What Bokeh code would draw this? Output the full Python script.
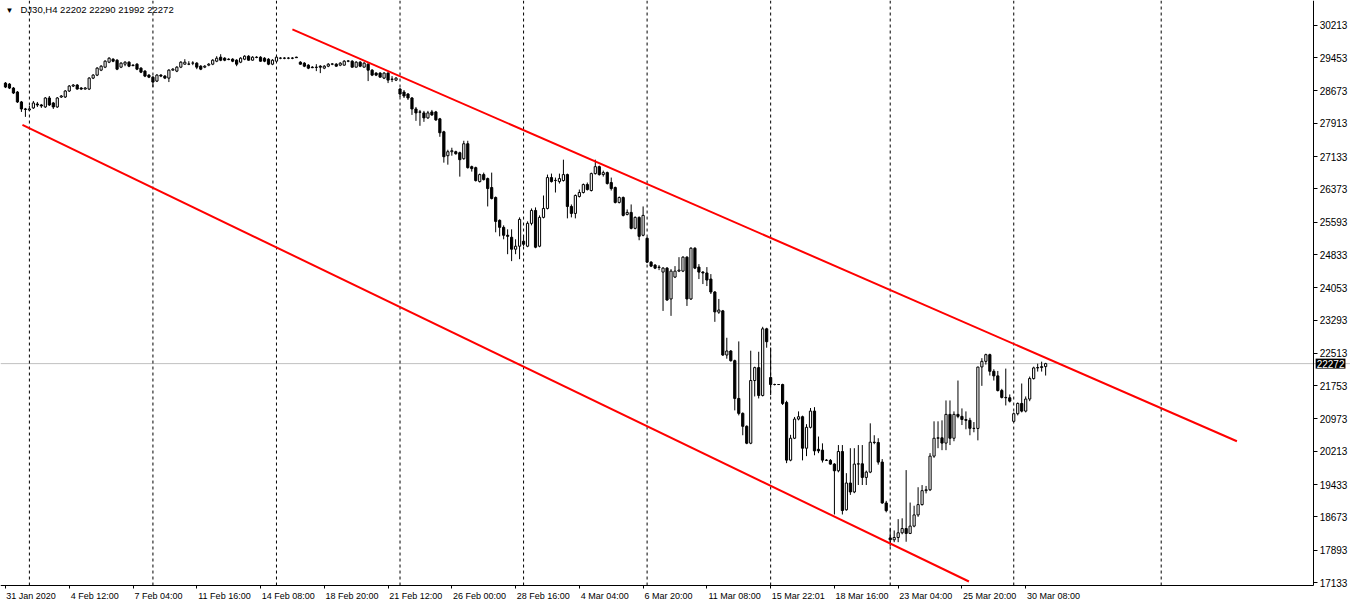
from bokeh.plotting import figure
from bokeh.models import FixedTicker, Label, Range1d, ColumnDataSource, Span, LinearAxis
from bokeh.embed import file_html
from bokeh.resources import INLINE

symbol = "DJ30,H4"
last_ohlc = [22202, 22290, 21992, 22272]
bid = 22272

opens = [
    28858, 28835, 28741, 28648, 28415, 28251, 28228, 28275, 28368, 28345,
    28298, 28508, 28391, 28298, 28531, 28531, 28672, 28788, 28812, 28742,
    28718, 28718, 28975, 29045, 29162, 29232, 29349, 29419, 29396, 29232,
    29302, 29349, 29279, 29302, 29209, 29139, 29045, 28998, 28905, 29045,
    29022, 28975, 29162, 29139, 29232, 29302, 29302, 29326, 29326, 29255,
    29232, 29279, 29302, 29372, 29466, 29442, 29419, 29419, 29396, 29349,
    29419, 29489, 29396, 29466, 29466, 29442, 29419, 29302, 29372, 29442,
    29445, 29442, 29445, 29466, 29349, 29326, 29279, 29232, 29225, 29255,
    29209, 29255, 29302, 29302, 29279, 29279, 29372, 29372, 29232, 29349,
    29232, 29302, 29162, 29092, 29092, 28975, 29092, 28952, 28928, 28718,
    28648, 28601, 28508, 28251, 28181, 28158, 28041, 28181, 28181, 28018,
    27714, 27153, 27247, 27247, 27223, 27083, 27434, 26896, 26873, 26546,
    26710, 26616, 26406, 26172, 25635, 25471, 25285, 25238, 24958, 25028,
    25145, 25028, 25565, 25868, 25028, 25705, 25915, 26640, 26570, 26546,
    26570, 26710, 25962, 25798, 26196, 26289, 26476, 26336, 26733, 26896,
    26710, 26756, 26523, 26406, 26056, 26172, 25775, 25822, 25448, 25705,
    25285, 25215, 24654, 24584, 24538, 24421, 24514, 23790, 24304, 24444,
    24444, 24771, 23790, 24981, 24538, 24421, 24400, 24257, 23953, 23480,
    23510, 22474, 22568, 22341, 21454, 21104, 20800, 20403, 21875, 22178,
    21524, 23089, 21945, 21781, 21781, 21781, 21360, 20006, 20520, 20970,
    21025, 20286, 20776, 21158, 20260, 20240, 20006, 20000, 19913, 19756,
    20208, 18840, 19469, 19259, 19913, 19920, 19600, 19725, 20427, 20420,
    19960, 19000, 18180, 18135, 18190, 18300, 18400, 18285, 18457, 18720,
    18962, 19290, 19310, 20100, 20520, 20530, 20406, 21080, 20520, 21080,
    21034, 20960, 20940, 20753, 20750, 22194, 22325, 22482, 22092, 21984,
    21640, 21478, 21470, 20917, 21096, 21337, 21157, 21440, 21921, 22171,
    22180, 22202,
]

highs = [
    28882, 28858, 28765, 28672, 28438, 28275, 28321, 28438, 28415, 28368,
    28531, 28555, 28415, 28531, 28578, 28695, 28812, 28835, 28835, 28765,
    28765, 28998, 29069, 29232, 29279, 29396, 29466, 29442, 29419, 29349,
    29372, 29372, 29302, 29326, 29232, 29162, 29069, 29022, 29069, 29069,
    29045, 29185, 29209, 29255, 29372, 29419, 29372, 29372, 29349, 29279,
    29279, 29326, 29419, 29489, 29536, 29466, 29442, 29442, 29419, 29466,
    29512, 29512, 29489, 29489, 29489, 29466, 29442, 29419, 29489, 29466,
    29466, 29466, 29466, 29478, 29372, 29349, 29302, 29255, 29302, 29279,
    29279, 29326, 29326, 29326, 29349, 29396, 29396, 29396, 29372, 29372,
    29349, 29326, 29185, 29115, 29115, 29115, 29115, 29022, 28998, 28742,
    28695, 28625, 28531, 28298, 28228, 28205, 28205, 28228, 28205, 28041,
    27738, 27293, 27340, 27270, 27247, 27504, 27504, 26920, 26896, 26733,
    26756, 26640, 26756, 26196, 25658, 25518, 25425, 25425, 25191, 25705,
    25285, 25611, 25915, 25939, 25752, 26219, 26710, 26733, 26640, 26733,
    27060, 26733, 26009, 26243, 26359, 26500, 26523, 26756, 27060, 26920,
    26803, 26780, 26640, 26429, 26196, 26196, 25892, 26009, 25728, 25728,
    25962, 25238, 24678, 24608, 24584, 24538, 24538, 24491, 24561, 24771,
    24794, 24794, 25005, 25005, 24608, 24444, 24538, 24374, 23976, 23790,
    23532, 22879, 22591, 22365, 22793, 21127, 20823, 22575, 22200, 22550,
    23136, 23113, 22650, 21800, 21790, 21800, 21400, 20600, 21020, 21150,
    21050, 20850, 21230, 21250, 20560, 20400, 20030, 20030, 19935, 20360,
    20360, 19700, 20286, 20286, 20360, 20360, 19760, 20870, 20590, 20520,
    20030, 19050, 18418, 18355, 18620, 18640, 19772, 19010, 18935, 19370,
    19420, 19400, 20170, 20917, 20917, 20940, 21407, 21407, 21150, 21875,
    21220, 21150, 21000, 20900, 22200, 22400, 22505, 22505, 22140, 22100,
    21680, 22155, 21548, 21127, 21360, 21805, 21501, 21968, 22201, 22270,
    22318, 22290,
]

lows = [
    28741, 28718, 28601, 28391, 28181, 28065, 28205, 28251, 28298, 28275,
    28275, 28321, 28251, 28275, 28508, 28508, 28648, 28765, 28705, 28695,
    28705, 28695, 28952, 29022, 29139, 29209, 29326, 29349, 29162, 29209,
    29255, 29232, 29255, 29162, 29092, 28998, 28975, 28765, 28882, 28998,
    28952, 28882, 29150, 29115, 29209, 29290, 29279, 29279, 29185, 29162,
    29209, 29255, 29279, 29349, 29372, 29372, 29396, 29349, 29255, 29326,
    29396, 29385, 29385, 29442, 29360, 29349, 29279, 29279, 29349, 29419,
    29419, 29419, 29419, 29450, 29290, 29232, 29185, 29209, 29139, 29092,
    29185, 29232, 29279, 29245, 29255, 29270, 29349, 29225, 29225, 29232,
    29225, 28905, 29022, 29022, 28990, 28952, 28858, 28882, 28905, 28531,
    28508, 28461, 28111, 27971, 27855, 27948, 28018, 28088, 27971, 27597,
    26990, 26943, 27153, 27177, 26662, 27060, 26850, 26780, 26546, 26523,
    26570, 25962, 26126, 25355, 25261, 25191, 24841, 24678, 24841, 24724,
    25028, 25005, 25518, 24981, 25005, 25682, 25892, 26523, 26289, 26500,
    26546, 25682, 25705, 25682, 26172, 26266, 26336, 26313, 26710, 26686,
    26663, 26476, 26336, 26032, 26032, 25728, 25752, 25425, 25425, 25168,
    25261, 24631, 24538, 24491, 24467, 23509, 23743, 23393, 24280, 24421,
    24421, 23626, 23766, 24491, 24257, 24140, 24093, 23906, 23253, 23440,
    22451, 22388, 22318, 21174, 21057, 20590, 20380, 20380, 21501, 21454,
    21501, 22645, 21531, 21760, 21770, 21300, 19935, 19980, 20500, 20940,
    20000, 20100, 20750, 20120, 20170, 19950, 19985, 19900, 18730, 19720,
    18730, 18820, 19190, 19230, 19422, 19422, 19422, 19700, 20380, 19900,
    18980, 18780, 17982, 18080, 18080, 18265, 18090, 18270, 18430, 18675,
    18940, 19225, 19280, 20060, 20286, 20240, 20240, 20360, 20450, 20990,
    20830, 20730, 20590, 20660, 20470, 21750, 22250, 21992, 21875, 21618,
    21454, 21290, 21360, 20893, 21057, 21127, 21127, 21390, 21898, 22085,
    22085, 21992,
]

closes = [
    28765, 28741, 28625, 28415, 28251, 28240, 28251, 28391, 28345, 28321,
    28508, 28345, 28298, 28508, 28555, 28672, 28788, 28812, 28718, 28718,
    28742, 28975, 29045, 29209, 29255, 29372, 29442, 29372, 29185, 29326,
    29349, 29255, 29268, 29185, 29115, 29022, 28998, 28882, 29045, 29022,
    28975, 29162, 29185, 29232, 29349, 29349, 29305, 29330, 29232, 29185,
    29255, 29302, 29396, 29442, 29396, 29396, 29410, 29372, 29302, 29442,
    29489, 29396, 29466, 29460, 29372, 29372, 29302, 29396, 29466, 29445,
    29442, 29445, 29442, 29455, 29302, 29255, 29209, 29220, 29232, 29232,
    29255, 29302, 29308, 29255, 29326, 29372, 29378, 29232, 29349, 29255,
    29326, 29162, 29045, 29045, 28998, 29092, 28928, 28945, 28975, 28601,
    28555, 28508, 28251, 28158, 28175, 28041, 28158, 28111, 27994, 27691,
    27130, 27247, 27270, 27200, 27060, 27434, 26873, 26850, 26570, 26710,
    26593, 26382, 26149, 25611, 25471, 25285, 25261, 24958, 25028, 25658,
    25075, 25565, 25868, 25005, 25705, 25915, 26640, 26546, 26575, 26616,
    26710, 25962, 25798, 26219, 26289, 26476, 26359, 26733, 26896, 26710,
    26756, 26500, 26382, 26056, 26172, 25752, 25822, 25448, 25705, 25261,
    25752, 24654, 24561, 24514, 24530, 24514, 23766, 24444, 24444, 24467,
    24771, 23790, 24981, 24514, 24421, 24400, 24234, 23953, 23486, 23530,
    22474, 22568, 22341, 21454, 21104, 20800, 20403, 21875, 22178, 21524,
    23089, 22786, 21781, 21781, 21781, 21337, 20006, 20520, 20970, 21025,
    20286, 20776, 21158, 20223, 20223, 20006, 20000, 19913, 19756, 20208,
    18823, 19469, 19259, 19913, 19920, 19600, 19725, 20427, 20420, 19960,
    19000, 18820, 18135, 18190, 18300, 18400, 18285, 18457, 18720, 18962,
    19290, 19310, 20100, 20520, 20530, 20406, 21080, 20520, 21080, 21034,
    20960, 20940, 20753, 20750, 22190, 22325, 22482, 22092, 21984, 21640,
    21478, 21470, 21390, 21096, 21337, 21157, 21440, 21921, 22171, 22180,
    22202, 22272,
]

x_label_bars = [0, 16, 32, 48, 64, 80, 96, 112, 128, 144, 160, 176, 192, 208, 224, 240, 256]
x_labels = ["31 Jan 2020", "4 Feb 12:00", "7 Feb 04:00", "11 Feb 16:00", "14 Feb 08:00",
            "18 Feb 20:00", "21 Feb 12:00", "26 Feb 00:00", "28 Feb 16:00", "4 Mar 04:00",
            "6 Mar 20:00", "11 Mar 08:00", "15 Mar 22:01", "18 Mar 16:00", "23 Mar 04:00",
            "25 Mar 20:00", "30 Mar 08:00"]
week_start_bars = [6, 37, 68, 99, 130, 161, 192, 222, 253, 290]
price_ticks = [17133, 17893, 18673, 19433, 20213, 20973, 21753, 22513, 23293,
               24053, 24833, 25593, 26373, 27133, 27913, 28673, 29453, 30213]

upper_channel_bars = [72, 309]
upper_channel_prices = [30120, 20450]
lower_channel_bars = [4.25, 241.75]
lower_channel_prices = [27877, 17157]

FONT = "Liberation Sans"

# ---- scales: the frame covers the whole canvas; axes sit at fixed locations
X_START, X_END = -1.25, 337.5        # bar units
Y_BOTTOM, Y_TOP = 16687, 30797        # price units
PRICE_AXIS_AT = 328.25                # bar position of the price scale
TIME_AXIS_AT = 17062                  # price position of the time scale
PX_PER_BAR = 1350 / (X_END - X_START)

n = len(closes)
bars = list(range(n))
src = ColumnDataSource(dict(
    x=bars,
    high=highs,
    low=lows,
    top=[max(o, c) for o, c in zip(opens, closes)],
    bottom=[min(o, c) for o, c in zip(opens, closes)],
    fill=["white" if c >= o else "black" for o, c in zip(opens, closes)],
))

p = figure(width=1350, height=601, output_backend="svg", toolbar_location=None,
           x_range=Range1d(X_START, X_END), y_range=Range1d(Y_BOTTOM, Y_TOP),
           x_axis_location=None, y_axis_location=None,
           min_border=0, min_border_left=0, min_border_top=0,
           min_border_right=0, min_border_bottom=0)
p.outline_line_color = None
p.background_fill_color = "white"
p.border_fill_color = "white"
p.xgrid.visible = False
p.ygrid.visible = False

# weekly dashed separators (from the time scale up)
p.segment(x0=week_start_bars, y0=[TIME_AXIS_AT] * len(week_start_bars),
          x1=week_start_bars, y1=[Y_TOP] * len(week_start_bars),
          line_color="black", line_dash="3 3", line_width=1)

# bid line
p.add_layout(Span(location=bid, dimension="width", line_color="#C0C0C0",
                  line_width=1, level="underlay"))

# candles
p.segment(x0="x", y0="low", x1="x", y1="high", source=src, line_color="black", line_width=1)
p.vbar(x="x", width=0.55, top="top", bottom="bottom", source=src,
       fill_color="fill", line_color="black", line_width=1)

# channel lines
p.line(upper_channel_bars, upper_channel_prices, line_color="#FF0000", line_width=2)
p.line(lower_channel_bars, lower_channel_prices, line_color="#FF0000", line_width=2)

# time axis: labels start at their bar, so centre ticks are shifted by half the text width
label_centres = [b + (1 + 4.45 * len(t) / 2) / PX_PER_BAR for b, t in zip(x_label_bars, x_labels)]
xa = LinearAxis(fixed_location=TIME_AXIS_AT, bounds=(X_START, PRICE_AXIS_AT))
xa.ticker = FixedTicker(ticks=label_centres, minor_ticks=x_label_bars)
xa.major_label_overrides = {c: t for c, t in zip(label_centres, x_labels)}
xa.major_label_text_font = FONT
xa.major_label_text_font_size = "9px"
xa.major_label_text_color = "black"
xa.major_label_standoff = 2
xa.major_tick_out = 0
xa.major_tick_in = 0
xa.minor_tick_out = 3
xa.minor_tick_in = 0
xa.axis_line_color = "black"
xa.minor_tick_line_color = "black"
p.add_layout(xa, "below")

# price axis
ya = LinearAxis(fixed_location=PRICE_AXIS_AT, bounds=(TIME_AXIS_AT, Y_TOP))
ya.ticker = FixedTicker(ticks=price_ticks)
ya.major_label_text_font = FONT
ya.major_label_text_font_size = "10px"
ya.major_label_text_color = "black"
ya.major_label_standoff = 2
ya.major_tick_out = 4
ya.major_tick_in = 0
ya.minor_tick_out = 0
ya.minor_tick_in = 0
ya.axis_line_color = "black"
ya.major_tick_line_color = "black"
p.add_layout(ya, "right")

# header
p.add_layout(Label(x=X_START, y=Y_TOP, x_offset=5, y_offset=-5, text="\u25bc",
                   text_font=FONT, text_font_size="8px", text_color="black",
                   text_baseline="top", text_align="left"))
header = symbol + "  " + " ".join(str(v) for v in last_ohlc)
p.add_layout(Label(x=X_START, y=Y_TOP, x_offset=20, y_offset=-3, text=header,
                   text_font=FONT, text_font_size="9.5px", text_color="black",
                   text_baseline="top", text_align="left"))

# current price tag on the price scale
tag = Label(x=PRICE_AXIS_AT, y=bid, x_offset=2, text=str(bid),
            text_font=FONT, text_font_size="10px", text_color="white",
            background_fill_color="black", text_baseline="middle",
            text_align="left")
if "padding" in Label.properties():
    tag.padding = 1
p.add_layout(tag)

open("out.html", "w").write(file_html(p, INLINE))
